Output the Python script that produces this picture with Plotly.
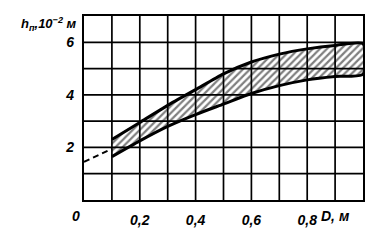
import plotly.graph_objects as go

# Data
D_band = [0.1, 0.2, 0.3, 0.4, 0.5, 0.6, 0.7, 0.8, 0.9, 1.0]
h_upper = [2.3, 2.95, 3.6, 4.2, 4.8, 5.25, 5.55, 5.75, 5.88, 5.95]
h_lower = [1.65, 2.25, 2.8, 3.25, 3.65, 4.05, 4.35, 4.57, 4.7, 4.78]
D_dash = [0.0, 0.1]
h_dash = [1.45, 1.95]

x_tickvals = [0.2, 0.4, 0.6, 0.8]
x_ticktext = ["0,2", "0,4", "0,6", "0,8"]
y_tickvals = [2, 4, 6]
y_ticktext = ["2", "4", "6"]

FONT = dict(family="Liberation Sans", size=14, color="black", weight="bold", style="italic")
TFONT = dict(family="Liberation Sans", size=13, color="black", weight="bold", style="italic")

fig = go.Figure()

# hatched band (closed polygon)
fig.add_trace(go.Scatter(
    x=D_band + D_band[::-1],
    y=h_upper + h_lower[::-1],
    mode="lines",
    fill="toself",
    fillcolor="rgba(255,255,255,0)",
    fillpattern=dict(shape="/", fgcolor="black", bgcolor="rgba(255,255,255,0)", size=5, solidity=0.45),
    line=dict(color="black", width=3, shape="spline", smoothing=0.6),
    hoverinfo="skip",
))

# dashed extrapolation
fig.add_trace(go.Scatter(
    x=D_dash, y=h_dash, mode="lines",
    line=dict(color="black", width=2, dash="6px,4px"),
    hoverinfo="skip",
))

fig.update_layout(
    width=385, height=240,
    margin=dict(l=84, r=22, t=16, b=32),
    paper_bgcolor="white", plot_bgcolor="white",
    showlegend=False,
    font=FONT,
    xaxis=dict(
        range=[0, 1.0],
        showgrid=False,
        tickmode="array", tickvals=x_tickvals, ticktext=x_ticktext,
        ticks="", ticklabelstandoff=6,
        showline=True, linecolor="black", linewidth=2.4, mirror=True,
        zeroline=False, tickfont=FONT,
    ),
    yaxis=dict(
        range=[0, 7],
        showgrid=False,
        tickmode="array", tickvals=y_tickvals, ticktext=y_ticktext,
        ticks="", ticklabelstandoff=5,
        showline=True, linecolor="black", linewidth=2.4, mirror=True,
        zeroline=False, tickfont=FONT,
    ),
)

# grid: verticals every 0.1, horizontals every 1
for i in range(1, 10):
    fig.add_shape(type="line", xref="x", yref="paper", x0=i / 10, x1=i / 10, y0=0, y1=1,
                  line=dict(color="black", width=1.7), layer="below")
for j in range(1, 7):
    fig.add_shape(type="line", xref="paper", yref="y", x0=0, x1=1, y0=j, y1=j,
                  line=dict(color="black", width=1.7), layer="below")

fig.add_annotation(text="0", xref="paper", yref="paper", x=0, y=0, xanchor="right", yanchor="top",
                   xshift=-2, yshift=-6, showarrow=False, font=FONT)
fig.add_annotation(text="D, м", xref="x", yref="paper", x=0.9, y=0, xanchor="center", yanchor="top",
                   yshift=-6, showarrow=False, font=FONT)
fig.add_annotation(text="h<sub>п</sub>,10<sup>−2</sup> м", xref="paper", yref="paper", x=0, y=1,
                   xanchor="right", yanchor="middle", xshift=-5, yshift=-8, showarrow=False, font=TFONT)

fig.write_html("out.html")
